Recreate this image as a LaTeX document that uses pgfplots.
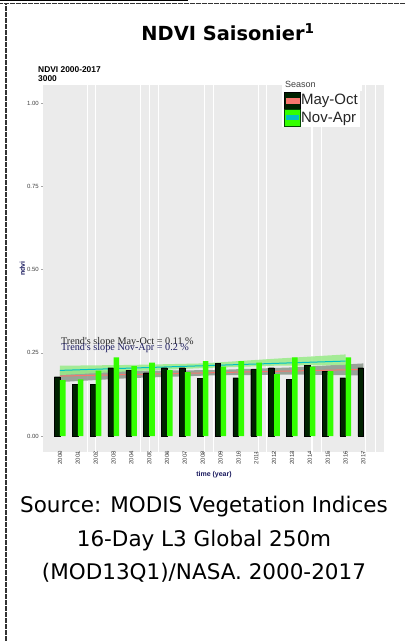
\documentclass[border=0pt]{standalone}
\usepackage{fontspec}
\usepackage{pgfplots}
\pgfplotsset{compat=1.18}
\newfontfamily\dejavu{DejaVu Sans}
\newfontfamily\libsans{Liberation Sans}
\newfontfamily\libserif{Liberation Serif}
\definecolor{panel}{HTML}{EBEBEB}
\definecolor{darkbar}{HTML}{002200}
\definecolor{brightgreen}{HTML}{33FF00}
\definecolor{salmon}{HTML}{F8766D}
\definecolor{tealc}{HTML}{00BFC4}
\definecolor{grayband}{HTML}{8A968A}
\definecolor{greenband}{HTML}{98EC88}
\definecolor{navy}{HTML}{1A1A5E}
\begin{document}
\begin{tikzpicture}
\path[use as bounding box] (0bp,0bp) rectangle (405bp,641bp);
% page frame
\draw[black, line width=0.8bp] (0bp,640.6bp) -- (188bp,640.6bp);
\draw[black!80, line width=0.9bp, dash pattern=on 0.6bp off 0.6bp] (0bp,638bp) -- (405bp,638bp);
\draw[black!80, line width=2bp, dash pattern=on 0.7bp off 0.5bp] (6bp,0bp) -- (6bp,638bp);
% title
\node[anchor=base, font=\dejavu\bfseries\fontsize{19.4bp}{23bp}\selectfont] at (228bp,600bp) {NDVI Saisonier\textsuperscript{1}};
% subtitle
\node[anchor=base west, inner sep=0pt, font=\libsans\bfseries\fontsize{8.4bp}{9bp}\selectfont] at (38bp,568bp) {NDVI 2000-2017};
\node[anchor=base west, inner sep=0pt, font=\libsans\bfseries\fontsize{8.4bp}{9bp}\selectfont] at (38bp,559bp) {3000};
\begin{axis}[
  at={(43bp,189bp)}, anchor=south west,
  scale only axis, width=342bp, height=367bp,
  xmin=-0.952, xmax=18.21, ymin=-0.048, ymax=1.054,
  axis background/.style={fill=panel},
  axis line style={draw=none},
  tick pos=left, tick align=outside,
  major tick length=2bp,
  tick style={draw=black!35, line width=0.4bp},
  xtick={0,1,2,3,4,5,6,7,8,9,10,11,12,13,14,15,16,17},
  xticklabels={2000,2001,2002,2003,2004,2005,2006,2007,2008,2009,2010,2011,2012,2013,2014,2015,2016,2017},
  ytick={0,0.25,0.5,0.75,1},
  yticklabels={0.00,0.25,0.50,0.75,1.00},
  x tick label style={rotate=90, anchor=east, inner sep=1bp, xshift=4bp, font=\libsans\fontsize{6bp}{6bp}\selectfont, text=black!75},
  y tick label style={inner sep=2bp, font=\libsans\fontsize{6bp}{6bp}\selectfont, text=black!75},
  extra x ticks={1.53,1.98,4.52,5.03,5.54,8.08,8.59,11.13,11.58,14.12,14.63,17.12,17.68,18.19},
  extra x tick labels={},
  extra x tick style={grid=major, major grid style={white, line width=1.2bp}, major tick length=0pt},
  xlabel={time (year)},
  xlabel style={at={(axis description cs:0.5,-0.063)}, anchor=center, font=\libsans\bfseries\fontsize{7bp}{7bp}\selectfont, text=navy},
  ylabel={ndvi},
  ylabel style={at={(axis description cs:-0.06,0.5)}, anchor=center, font=\libsans\bfseries\fontsize{7bp}{7bp}\selectfont, text=navy},
  legend style={at={(0.6988,0.9837)}, anchor=north west, draw=none, fill=white,
    font=\libsans\fontsize{15bp}{17bp}\selectfont, text=black!85,
    inner xsep=2bp, inner ysep=0.5bp, row sep=0bp, nodes={inner sep=0.4bp},
    /tikz/every even column/.append style={column sep=1bp}},
  legend cell align=left,
]
% confidence bands
\addplot[forget plot, draw=none, fill=grayband, fill opacity=0.85] coordinates {(0,0.162) (4,0.174) (8.5,0.182) (13,0.1845) (17,0.182) (17,0.218) (13,0.206) (8.5,0.198) (4,0.1955) (0,0.198)} -- cycle;
\addplot[forget plot, draw=none, fill=greenband, fill opacity=0.85] coordinates {(0,0.183) (4,0.1945) (8,0.204) (12,0.211) (16,0.213) (16,0.245) (12,0.232) (8,0.218) (4,0.2135) (0,0.211)} -- cycle;
% trend lines
\addplot[forget plot, salmon, line width=1bp] coordinates {(0,0.180) (17,0.200)};
\addplot[forget plot, tealc, line width=1bp] coordinates {(0,0.197) (16,0.225)};
% bars
\addplot[ybar, bar width=5.6bp, bar shift=-2.8bp, fill=darkbar, draw=black, line width=0.4bp,
  legend image code/.code={\fill[darkbar, draw=black, line width=0.5bp] (0bp,-8.5bp) rectangle (16bp,8.5bp); \fill[salmon] (1.5bp,-2.5bp) rectangle (14.5bp,2.5bp);}]
  coordinates {(0,0.178) (1,0.155) (2,0.155) (3,0.205) (4,0.198) (5,0.190) (6,0.205) (7,0.205) (8,0.173) (9,0.218) (10,0.175) (11,0.200) (12,0.205) (13,0.171) (14,0.213) (15,0.195) (16,0.175) (17,0.205)};
\addlegendentry{May-Oct}
\addplot[ybar, bar width=5.6bp, bar shift=2.8bp, fill=brightgreen, draw=none,
  legend image code/.code={\fill[brightgreen, draw=black!70!green, line width=0.5bp] (0bp,-8.5bp) rectangle (16bp,8.5bp); \fill[tealc] (1.5bp,-2.5bp) rectangle (14.5bp,2.5bp);}]
  coordinates {(0,0.168) (1,0.170) (2,0.196) (3,0.236) (4,0.210) (5,0.220) (6,0.198) (7,0.192) (8,0.225) (9,0.208) (10,0.225) (11,0.220) (12,0.186) (13,0.236) (14,0.208) (15,0.195) (16,0.236)};
\addlegendentry{Nov-Apr}
% trend annotations
\node[anchor=base west, inner sep=0pt, font=\libserif\fontsize{10.2bp}{11bp}\selectfont, text=black!85] at (axis cs:0.05,0.276) {Trend's slope May-Oct = 0.11 \%};
\node[anchor=base west, inner sep=0pt, font=\libserif\fontsize{10.2bp}{11bp}\selectfont, text=navy] at (axis cs:0.05,0.258) {Trend's slope Nov-Apr = 0.2 \%};
\end{axis}
% legend title
\node[anchor=north west, fill=white, minimum width=80bp, minimum height=11bp, inner sep=0pt] at (282bp,561bp) {};
\node[anchor=base west, inner sep=0pt, font=\libsans\fontsize{9bp}{9bp}\selectfont, text=black!75] at (285bp,553bp) {Season};
% source caption
\node[anchor=base, font=\dejavu\fontsize{21.5bp}{25bp}\selectfont] at (204bp,128bp) {Source: MODIS Vegetation Indices};
\node[anchor=base, font=\dejavu\fontsize{21.5bp}{25bp}\selectfont] at (204bp,94bp) {16-Day L3 Global 250m};
\node[anchor=base, font=\dejavu\fontsize{21.5bp}{25bp}\selectfont] at (204bp,61bp) {(MOD13Q1)/NASA. 2000-2017};
\end{tikzpicture}
\end{document}
